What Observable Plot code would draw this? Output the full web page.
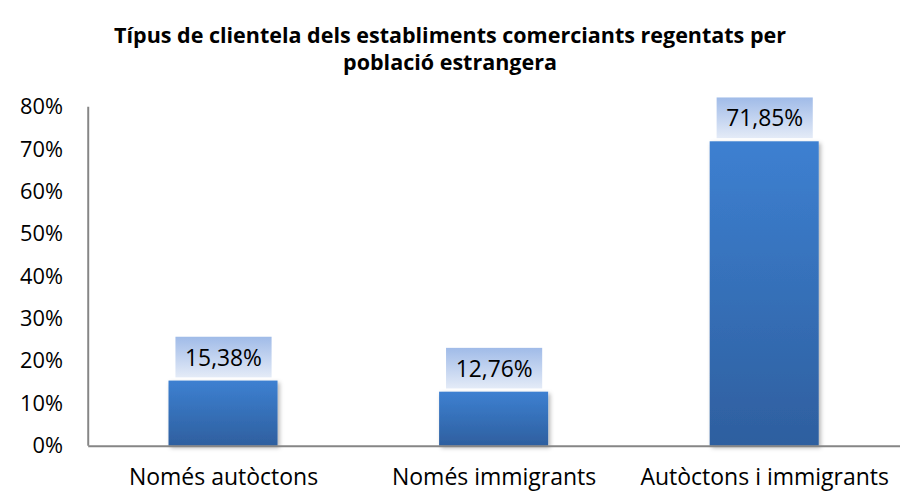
<!DOCTYPE html>
<html>
<head>
<meta charset="utf-8">
<script src="https://cdn.jsdelivr.net/npm/d3@7"></script>
<script src="https://cdn.jsdelivr.net/npm/@observablehq/plot@0.6"></script>
<style>
  html, body { margin: 0; padding: 0; background: #fff; overflow: hidden; width: 900px; height: 496px; }
  #title { font-family: "Open Sans", sans-serif; font-weight: bold; font-size: 21.5px; text-align: center;
           line-height: 27px; padding-top: 21px; height: 59px; width: 900px; color: #000; }
  #chart svg { display: block; }
</style>
</head>
<body>
<div id="title">Típus de clientela dels establiments comerciants regentats per<br>població estrangera</div>
<div id="chart"></div>
<script>
const categories = ["Només autòctons", "Només immigrants", "Autòctons i immigrants"];
const values = [15.38, 12.76, 71.85];
const labels = ["15,38%", "12,76%", "71,85%"];
const yTicks = [0, 10, 20, 30, 40, 50, 60, 70, 80];

const data = categories.map((c, i) => ({cat: c, v: values[i], label: labels[i]}));
const font = "'Open Sans', sans-serif";

function leftAxisLine(index, scales, values, dimensions) {
  const y0 = scales.y(0), y1 = scales.y(80);
  const line = document.createElementNS("http://www.w3.org/2000/svg", "line");
  line.setAttribute("x1", dimensions.marginLeft);
  line.setAttribute("x2", dimensions.marginLeft);
  line.setAttribute("y1", y0);
  line.setAttribute("y2", y1);
  line.setAttribute("stroke", "#868686");
  line.setAttribute("stroke-width", 2);
  return line;
}

const svg = Plot.plot({
  width: 908,
  height: 416,
  marginTop: 27,
  marginBottom: 47,
  marginLeft: 89,
  marginRight: 0,
  style: {fontFamily: font, fontSize: "22px", color: "#000", background: "#fff"},
  x: {domain: categories, paddingInner: 0.597, paddingOuter: 0.2985, label: null, tickSize: 0, tickPadding: 23},
  y: {domain: [0, 80], ticks: yTicks, tickFormat: d => d + "%", label: null, tickSize: 0, tickPadding: 26},
  marks: [
    Plot.barY(data, {x: "cat", y: "v", fill: "url(#barGrad)"}),
    leftAxisLine,
    Plot.ruleY([0], {stroke: "#868686", strokeWidth: 2}),
    Plot.text(data, {x: "cat", y: "v", text: "label", dy: -23, fontSize: 23, fill: "#000"})
  ]
});

// gradients
const defs = d3.select(svg).insert("defs", ":first-child");
const g1 = defs.append("linearGradient").attr("id", "barGrad").attr("x1", 0).attr("y1", 0).attr("x2", 0).attr("y2", 1);
g1.append("stop").attr("offset", "0%").attr("stop-color", "#3d80d1");
g1.append("stop").attr("offset", "100%").attr("stop-color", "#2e5f9f");
const g2 = defs.append("linearGradient").attr("id", "lblGrad").attr("x1", 0).attr("y1", 0).attr("x2", 0).attr("y2", 1);
g2.append("stop").attr("offset", "0%").attr("stop-color", "#a0bbe8");
g2.append("stop").attr("offset", "100%").attr("stop-color", "#e4ebf7");
const f = defs.append("filter").attr("id", "shadow").attr("x", "-20%").attr("y", "-20%").attr("width", "140%").attr("height", "140%");
f.append("feDropShadow").attr("dx", 2).attr("dy", 2).attr("stdDeviation", 2).attr("flood-color", "#000").attr("flood-opacity", 0.3);

document.getElementById("chart").appendChild(svg);

// x tick labels slightly larger
d3.select(svg).selectAll("text").filter(function() { return categories.includes(this.textContent); })
  .attr("font-size", 23.2);

// bar shadows
d3.select(svg).selectAll("rect").filter(function() {
  return this.getAttribute("fill") === "url(#barGrad)" || (this.parentNode && this.parentNode.getAttribute("fill") === "url(#barGrad)");
}).attr("filter", "url(#shadow)");

// label boxes behind value labels
d3.select(svg).selectAll("text").filter(function() { return labels.includes(this.textContent); }).each(function() {
  const node = this;
  const bb = node.getBBox();
  const cx = bb.x + bb.width / 2, cy = bb.y + bb.height / 2;
  const w = 97, h = 41;
  const rect = document.createElementNS("http://www.w3.org/2000/svg", "rect");
  rect.setAttribute("x", cx - w / 2);
  rect.setAttribute("y", cy - h / 2);
  rect.setAttribute("width", w);
  rect.setAttribute("height", h);
  rect.setAttribute("fill", "url(#lblGrad)");
  const tr = node.getAttribute("transform");
  if (tr) rect.setAttribute("transform", tr);
  node.parentNode.insertBefore(rect, node);
});
</script>
</body>
</html>
